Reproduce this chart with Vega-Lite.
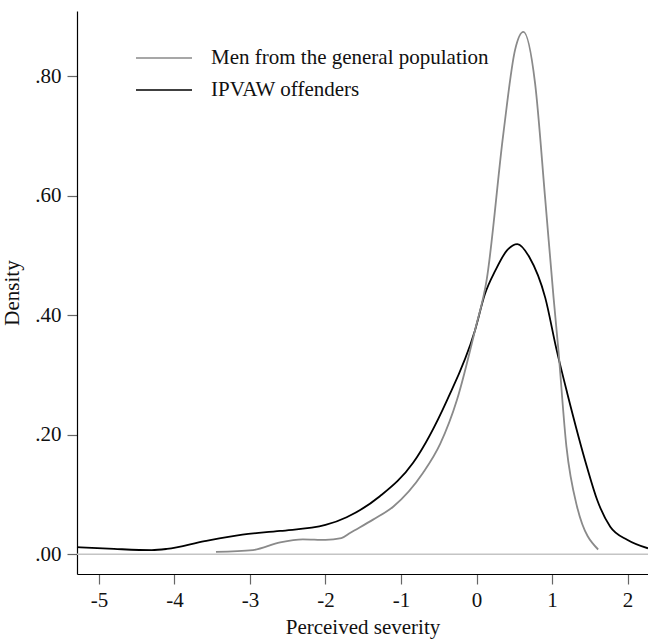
{
  "$schema": "https://vega.github.io/schema/vega-lite/v6.json",
  "width": 571,
  "height": 563,
  "autosize": {"type": "none"},
  "padding": {"left": 77, "top": 11, "right": 0, "bottom": 69},
  "background": "white",
  "config": {
    "view": {"stroke": null},
    "font": "Liberation Serif",
    "axis": {"grid": false, "domainColor": "#000", "domainWidth": 1.2, "tickColor": "#666", "tickSize": 10, "tickWidth": 1.2, "labelFont": "Liberation Serif", "labelFontSize": 21, "labelColor": "#111", "titleFont": "Liberation Serif", "titleFontSize": 21, "titleFontWeight": "normal", "titleColor": "#111"}
  },
  "datasets": {
    "curves": [
      {"group": "IPVAW offenders", "x": -5.29, "y": 0.012},
      {"group": "IPVAW offenders", "x": -4.8, "y": 0.009},
      {"group": "IPVAW offenders", "x": -4.3, "y": 0.007},
      {"group": "IPVAW offenders", "x": -4.1, "y": 0.009},
      {"group": "IPVAW offenders", "x": -3.6, "y": 0.022},
      {"group": "IPVAW offenders", "x": -3.1, "y": 0.033},
      {"group": "IPVAW offenders", "x": -2.6, "y": 0.039},
      {"group": "IPVAW offenders", "x": -2.0, "y": 0.049},
      {"group": "IPVAW offenders", "x": -1.72, "y": 0.062},
      {"group": "IPVAW offenders", "x": -1.28, "y": 0.097},
      {"group": "IPVAW offenders", "x": -0.84, "y": 0.153},
      {"group": "IPVAW offenders", "x": -0.39, "y": 0.258},
      {"group": "IPVAW offenders", "x": -0.02, "y": 0.375},
      {"group": "IPVAW offenders", "x": 0.11, "y": 0.435},
      {"group": "IPVAW offenders", "x": 0.25, "y": 0.475},
      {"group": "IPVAW offenders", "x": 0.4, "y": 0.508},
      {"group": "IPVAW offenders", "x": 0.54, "y": 0.519},
      {"group": "IPVAW offenders", "x": 0.7, "y": 0.497},
      {"group": "IPVAW offenders", "x": 0.91, "y": 0.429},
      {"group": "IPVAW offenders", "x": 1.06, "y": 0.342},
      {"group": "IPVAW offenders", "x": 1.2, "y": 0.27},
      {"group": "IPVAW offenders", "x": 1.46, "y": 0.147},
      {"group": "IPVAW offenders", "x": 1.6, "y": 0.09},
      {"group": "IPVAW offenders", "x": 1.77, "y": 0.046},
      {"group": "IPVAW offenders", "x": 2.0, "y": 0.024},
      {"group": "IPVAW offenders", "x": 2.27, "y": 0.010},
      {"group": "Men from the general population", "x": -3.45, "y": 0.004},
      {"group": "Men from the general population", "x": -2.96, "y": 0.007},
      {"group": "Men from the general population", "x": -2.6, "y": 0.02},
      {"group": "Men from the general population", "x": -2.3, "y": 0.025},
      {"group": "Men from the general population", "x": -2.0, "y": 0.024},
      {"group": "Men from the general population", "x": -1.79, "y": 0.027},
      {"group": "Men from the general population", "x": -1.67, "y": 0.036},
      {"group": "Men from the general population", "x": -1.37, "y": 0.058},
      {"group": "Men from the general population", "x": -1.1, "y": 0.08},
      {"group": "Men from the general population", "x": -0.71, "y": 0.136},
      {"group": "Men from the general population", "x": -0.48, "y": 0.185},
      {"group": "Men from the general population", "x": -0.26, "y": 0.258},
      {"group": "Men from the general population", "x": -0.02, "y": 0.375},
      {"group": "Men from the general population", "x": 0.135, "y": 0.46},
      {"group": "Men from the general population", "x": 0.355, "y": 0.704},
      {"group": "Men from the general population", "x": 0.51, "y": 0.844},
      {"group": "Men from the general population", "x": 0.62, "y": 0.874},
      {"group": "Men from the general population", "x": 0.775, "y": 0.788},
      {"group": "Men from the general population", "x": 0.91, "y": 0.593},
      {"group": "Men from the general population", "x": 1.02, "y": 0.429},
      {"group": "Men from the general population", "x": 1.08, "y": 0.347},
      {"group": "Men from the general population", "x": 1.19, "y": 0.18},
      {"group": "Men from the general population", "x": 1.33, "y": 0.08},
      {"group": "Men from the general population", "x": 1.61, "y": 0.008}
    ]
  },
  "layer": [
    {
      "data": {"values": [{"y": 0}]},
      "mark": {"type": "rule", "color": "#c4c4c4", "strokeWidth": 1.5},
      "encoding": {
        "y": {"field": "y", "type": "quantitative", "scale": {"domain": [-0.033, 0.909], "nice": false, "zero": false}}
      }
    },
    {
      "data": {"name": "curves"},
      "mark": {"type": "line", "interpolate": "monotone", "strokeWidth": 1.8},
      "encoding": {
        "x": {"field": "x", "type": "quantitative", "title": "Perceived severity",
              "scale": {"domain": [-5.29, 2.27], "nice": false, "zero": false},
              "axis": {"values": [-5, -4, -3, -2, -1, 0, 1, 2], "labelExpr": "'' + datum.value", "labelPadding": 5, "titlePadding": 6}},
        "y": {"field": "y", "type": "quantitative", "title": "Density",
              "scale": {"domain": [-0.033, 0.909], "nice": false, "zero": false},
              "axis": {"values": [0, 0.2, 0.4, 0.6, 0.8], "labelExpr": "substring(format(datum.value, '.2f'), 1)", "labelPadding": 6, "titlePadding": 12}},
        "color": {"field": "group", "type": "nominal",
                  "scale": {"domain": ["Men from the general population", "IPVAW offenders"], "range": ["#8a8a8a", "#000000"]},
                  "legend": {"title": null, "orient": "none", "legendX": 72, "legendY": 32, "symbolType": "M-2,0H2", "symbolSize": 784, "symbolStrokeWidth": 1.5, "symbolFillColor": "transparent", "labelFont": "Liberation Serif", "labelFontSize": 21, "labelColor": "#111", "labelOffset": 32, "labelLimit": 400, "rowPadding": 7, "padding": 0}},
        "order": {"field": "x", "type": "quantitative"}
      }
    }
  ]
}
